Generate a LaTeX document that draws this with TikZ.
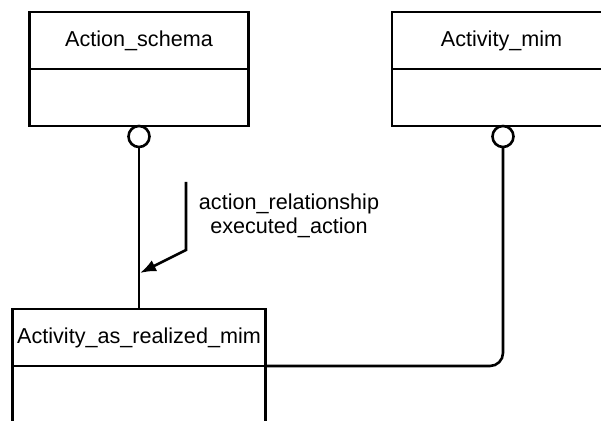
\documentclass[tikz,border=0pt]{standalone}
\usepackage{fontspec}
\setmainfont{Liberation Sans}
\usetikzlibrary{arrows.meta,positioning}
\tikzset{
  entity/.style={draw,line width=1.3pt,outer sep=0pt,inner sep=0pt,
    minimum width=109.5pt,minimum height=28.5pt,
    font=\fontsize{10.8}{12}\selectfont},
  ring/.style={draw,circle,line width=1.3pt,outer sep=0pt,inner sep=0pt,
    minimum size=10.5pt},
  link/.style={line width=1.3pt}
}

\begin{document}
\begin{tikzpicture}[x=0.5pt,y=-0.5pt]
    \clip (0,0) rectangle (601,421);

    % the two upper entities
    \node[entity] (schemahead) at (139,40.5) {Action\_schema};
    \node[entity,below=0pt of schemahead] (schemabody) {};
    \node[ring,below=0pt of schemabody] (schemaring) {};

    \node[entity] (mimhead) at (501.5,40.5) {Activity\_mim};
    \node[entity,below=0pt of mimhead] (mimbody) {};
    \node[ring,below=0pt of mimbody.south,xshift=0.75pt] (mimring) {};

    % the lower entity, cut off by the frame
    \node[entity,minimum width=126.5pt] (realizedhead) at (139,337.5) {Activity\_as\_realized\_mim};
    \node[entity,minimum width=126.5pt,below=0pt of realizedhead] (realizedbody) {};

    \draw[link] (schemaring.south) -- (realizedhead.north);
    \draw[link,rounded corners=6.5pt] (mimring.south) |- (realizedhead.south east);

    % role name
    \node[font=\fontsize{10.8}{12}\selectfont,align=center,inner sep=0pt] (role) at (289,216)
      {action\_relationship\\executed\_action};
    \coordinate (roletop) at (186,182);
    \coordinate (rolebend) at (186,250);
    \coordinate (roletip) at (140,273);
    \draw[link,-{Latex[length=8pt,width=6pt]}] (roletop) -- (rolebend) -- (roletip);
\end{tikzpicture}
\end{document}
